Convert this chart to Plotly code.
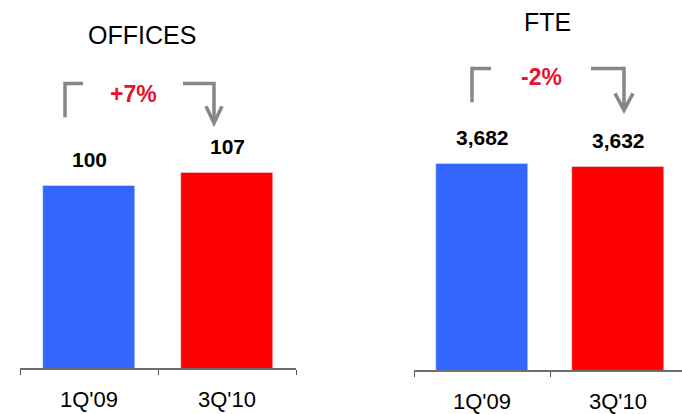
import plotly.graph_objects as go

# ---- data ----
categories = ["1Q'09", "3Q'10"]
offices = [100, 107]
fte = [3682, 3632]
offices_change = "+7%"
fte_change = "-2%"
titles = ["OFFICES", "FTE"]
bar_colors = ["#3366FF", "#FF0000"]

W, H = 682, 414
FONT = "Liberation Sans, Arial, sans-serif"
GRAY = "#878787"
PCT_RED = "#E8112D"


def px(x):
    return x / W


def py(y):
    return 1 - y / H


fig = go.Figure()

fig.add_trace(go.Bar(x=categories, y=offices, marker_color=bar_colors, width=0.667,
                     xaxis="x", yaxis="y", showlegend=False, hoverinfo="skip"))
fig.add_trace(go.Bar(x=categories, y=fte, marker_color=bar_colors, width=0.676,
                     xaxis="x2", yaxis="y2", showlegend=False, hoverinfo="skip"))

annotations = []
# value labels
for cats, vals, xr, yr in [(categories, offices, "x", "y"), (categories, fte, "x2", "y2")]:
    for c, v in zip(cats, vals):
        annotations.append(dict(x=c, y=v, xref=xr, yref=yr, text=f"<b>{v:,}</b>",
                                showarrow=False, yanchor="middle", yshift=26,
                                font=dict(family=FONT, size=21, color="black")))

# titles
annotations.append(dict(x=px(142), y=py(35), xref="paper", yref="paper", text=titles[0],
                        showarrow=False, xanchor="center", yanchor="middle",
                        font=dict(family=FONT, size=25, color="black")))
annotations.append(dict(x=px(547), y=py(22), xref="paper", yref="paper", text=titles[1],
                        showarrow=False, xanchor="center", yanchor="middle",
                        font=dict(family=FONT, size=25, color="black")))
# change labels
annotations.append(dict(x=px(133), y=py(95), xref="paper", yref="paper", text=f"<b>{offices_change}</b>",
                        showarrow=False, xanchor="center", yanchor="middle",
                        font=dict(family=FONT, size=23, color=PCT_RED)))
annotations.append(dict(x=px(541), y=py(78), xref="paper", yref="paper", text=f"<b>{fte_change}</b>",
                        showarrow=False, xanchor="center", yanchor="middle",
                        font=dict(family=FONT, size=23, color=PCT_RED)))

shapes = []


def path(points):
    d = "M " + " L ".join(f"{px(x):.5f},{py(y):.5f}" for x, y in points)
    shapes.append(dict(type="path", path=d, xref="paper", yref="paper",
                       line=dict(color=GRAY, width=3.5)))


# left chart bracket arrow
path([(65, 118), (65, 84), (83, 84)])
path([(183, 84), (214, 84), (214, 124)])
path([(206, 107), (214, 124), (222, 107)])
# right chart bracket arrow
path([(472, 103), (472, 69), (491, 69)])
path([(591, 69), (624, 69), (624, 111)])
path([(615, 94), (624, 111), (633, 94)])

axis_common = dict(type="category", tickson="boundaries", ticks="outside", ticklen=5,
                   tickcolor="#555555", tickwidth=1, showline=True, linecolor="#6e6e6e",
                   linewidth=1.5, showgrid=False, zeroline=False, ticklabelstandoff=11,
                   tickfont=dict(family=FONT, size=22, color="black"), fixedrange=True)

fig.update_layout(
    width=W, height=H,
    margin=dict(l=0, r=0, t=0, b=0),
    paper_bgcolor="white", plot_bgcolor="white",
    bargap=0,
    xaxis=dict(domain=[px(20), px(296)], range=[-0.5, 1.5], anchor="y", **axis_common),
    yaxis=dict(domain=[py(371), py(40)], range=[0, 331 / 1.84], visible=False, anchor="x"),
    xaxis2=dict(domain=[px(414), 1.0], range=[-0.5, -0.5 + 268 / 136], anchor="y2", **axis_common),
    yaxis2=dict(domain=[py(373), py(40)], range=[0, 333 / (208 / 3682)], visible=False, anchor="x2"),
    annotations=annotations,
    shapes=shapes,
)

fig.write_html("out.html", config={"displayModeBar": False},
               post_script="document.body.style.margin='0';document.body.style.overflow='hidden';")
